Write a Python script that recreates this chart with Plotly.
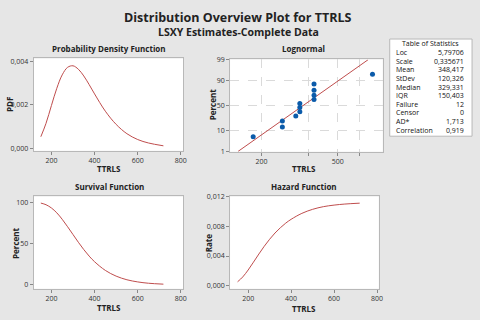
import statistics
import plotly.graph_objects as go
from plotly.subplots import make_subplots

# Kurven
ttrls = [151, 175, 200, 225, 250, 275, 300, 325, 350, 375, 400, 450, 500, 550, 600, 650, 719]
pdf = [0.00053, 0.00115, 0.00197, 0.00277, 0.00339, 0.00374, 0.00381, 0.00365, 0.00334,
       0.00294, 0.00251, 0.00171, 0.00110, 0.00067, 0.00040, 0.00024, 0.00011]
survival = [99.0, 97.0, 93.1, 87.2, 79.4, 70.4, 61.0, 51.6, 42.8, 34.9, 28.1, 17.6, 10.7,
            6.3, 3.7, 2.1, 1.0]
hazard = [0.00054, 0.00119, 0.00212, 0.00318, 0.00427, 0.00531, 0.00625, 0.00709, 0.00780,
          0.00842, 0.00893, 0.00973, 0.01027, 0.01063, 0.01084, 0.01098, 0.01110]

# Wahrscheinlichkeitsnetz
fail_times = [181, 257, 257, 302, 317, 317, 317, 376, 376, 376, 376, 759]
fail_pct = [5.6, 13.7, 21.8, 29.8, 37.9, 46.0, 54.0, 62.1, 70.2, 78.2, 86.3, 94.4]
fit_x = [151, 719]
fit_pct = [1, 99]
pct_ticks = [1, 10, 50, 90, 99]

stat_names = ["Loc", "Scale", "Mean", "StDev", "Median", "IQR", "Failure", "Censor", "AD*", "Correlation"]
stat_values = ["5,79706", "0,335671", "348,417", "120,326", "329,331", "150,403", "12", "0", "1,713", "0,919"]

RED = "#BF4D4D"
BLUE = "#0B5BAA"
FONT = "Open Sans"
nd = statistics.NormalDist()


def z(p):
    return nd.inv_cdf(p / 100)


fig = make_subplots(rows=2, cols=2)

fig.add_trace(go.Scatter(x=ttrls, y=pdf, mode="lines", line=dict(color=RED, width=1, shape="spline")), row=1, col=1)
fig.add_trace(go.Scatter(x=fit_x, y=[z(p) for p in fit_pct], mode="lines", line=dict(color=RED, width=1)), row=1, col=2)
fig.add_trace(go.Scatter(x=fail_times, y=[z(p) for p in fail_pct], mode="markers",
                         marker=dict(color=BLUE, size=5)), row=1, col=2)
fig.add_trace(go.Scatter(x=ttrls, y=survival, mode="lines", line=dict(color=RED, width=1, shape="spline")), row=2, col=1)
fig.add_trace(go.Scatter(x=ttrls, y=hazard, mode="lines", line=dict(color=RED, width=1, shape="spline")), row=2, col=2)

W, H = 480, 320


def xd(a, b):
    return [a / W, b / W]


def yd(top, bottom):
    return [1 - bottom / H, 1 - top / H]


ax = dict(showline=True, mirror=True, linecolor="#B8B8B8", linewidth=1, showgrid=False, zeroline=False,
          ticks="outside", ticklen=3, tickcolor="#888", tickfont=dict(size=7, color="#333", family=FONT))
fig.update_xaxes(**ax)
fig.update_yaxes(**ax)

lin_x = dict(range=[118, 812], tickvals=[200, 400, 600, 800])
fig.update_xaxes(domain=xd(34, 185), **lin_x, row=1, col=1)
fig.update_yaxes(domain=yd(55, 150), range=[-0.00012, 0.00415], tickvals=[0, 0.002, 0.004],
                 tickformat=".3f", row=1, col=1)

fig.update_xaxes(domain=xd(232, 386), type="log", range=[2.137, 2.934],
                 tickvals=[200, 350, 500, 650], ticktext=["200", "", "500", ""],
                 showgrid=True, gridcolor="#DADADA", griddash="dash", row=1, col=2)
fig.update_yaxes(domain=yd(56, 151), range=[z(0.95), z(99.05)], tickvals=[z(p) for p in pct_ticks],
                 ticktext=[str(p) for p in pct_ticks], showgrid=True, gridcolor="#DADADA",
                 griddash="dash", row=1, col=2)

fig.update_xaxes(domain=xd(34, 185), **lin_x, row=2, col=1)
fig.update_yaxes(domain=yd(197, 292), range=[-4.6, 107], tickvals=[0, 50, 100], row=2, col=1)

fig.update_xaxes(domain=xd(232, 382), range=[116, 808], tickvals=[200, 400, 600, 800], row=2, col=2)
fig.update_yaxes(domain=yd(197, 292), range=[-0.0004, 0.012], tickvals=[0, 0.004, 0.008, 0.012],
                 tickformat=".3f", row=2, col=2)

ann = []


def text(x, y, s, size=9, bold=True, angle=0, xanchor="center", color="#222"):
    ann.append(dict(x=x / W, y=1 - y / H, xref="paper", yref="paper", text=f"<b>{s}</b>" if bold else s,
                    showarrow=False, xanchor=xanchor, yanchor="middle", textangle=angle,
                    font=dict(size=size, color=color, family=FONT)))


text(240, 13, "Distribution Overview Plot for TTRLS", size=12.5)
text(240, 28, "LSXY Estimates-Complete Data", size=10.5)
text(110, 45, "Probability Density Function", size=8)
text(306, 45, "Lognormal", size=8)
text(110, 187, "Survival Function", size=8)
text(307, 187, "Hazard Function", size=8)
for cx, cy in [(110, 168), (307, 168), (110, 311), (307, 312)]:
    text(cx, cy, "TTRLS", size=8)
text(9, 102, "PDF", size=8, angle=-90)
text(214, 103, "Percent", size=8, angle=-90)
text(15, 245, "Percent", size=8, angle=-90)
text(210, 245, "Rate", size=8, angle=-90)

# Tabelle
text(434.5, 40, "Table of Statistics", size=7, bold=False, color="#111")
for i, (n, v) in enumerate(zip(stat_names, stat_values)):
    text(397, 49 + 8.85 * i, n, size=7, bold=False, xanchor="left", color="#111")
    text(470, 49 + 8.85 * i, v, size=7, bold=False, xanchor="right", color="#111")

fig.update_layout(
    width=W, height=H, margin=dict(l=0, r=0, t=0, b=0),
    paper_bgcolor="#E6E6E6", plot_bgcolor="white", showlegend=False,
    separators=",.", annotations=ann,
    shapes=[dict(type="rect", xref="paper", yref="paper", x0=393 / W, x1=476 / W,
                 y0=1 - 135 / H, y1=1 - 35 / H, fillcolor="white", line=dict(color="#B8B8B8", width=1),
                 layer="below")],
)

fig.write_html("out.html", config={"displayModeBar": False},
               post_script="document.body.style.margin='0';")
